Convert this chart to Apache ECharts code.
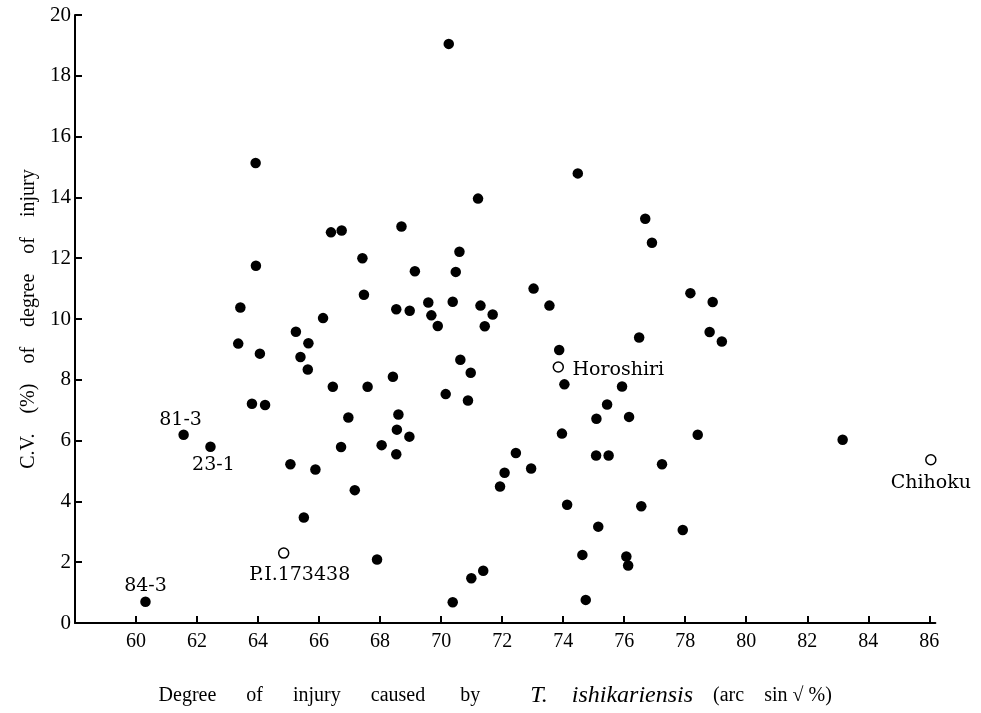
<!DOCTYPE html>
<html>
<head>
<meta charset="utf-8">
<script src="https://cdn.jsdelivr.net/npm/echarts@6/dist/echarts.min.js"></script>
<style>html,body{margin:0;padding:0;background:#fff}#c{width:981px;height:713px}</style>
</head>
<body>
<div id="c"></div>
<script>
// Unlabelled lines (filled dots)
var injury = [63.92,63.93,63.42,66.39,66.74,67.42,67.47,68.70,68.53,66.13,70.25,74.48,71.21,76.69,76.91,70.60,69.14,70.48,73.03,73.55,78.17,78.90,68.97,69.58,70.38,69.68,71.29,71.69,69.89,71.43,78.80,79.20,65.24,63.35,65.65,64.06,65.39,65.63,68.42,66.45,67.59,63.80,64.23,66.96,68.60,68.55,66.72,68.05,68.53,65.06,65.88,67.17,65.50,67.90,76.49,73.87,70.63,70.97,74.04,75.93,70.15,70.88,75.44,75.09,76.16,68.96,73.96,78.41,72.45,75.08,75.49,72.95,72.08,77.24,71.93,74.13,76.56,75.15,77.92,74.63,76.07,76.13,71.38,70.99,74.74,70.38,83.16];
var cv = [15.13,11.75,10.38,12.85,12.91,12.00,10.80,13.04,10.32,10.03,19.05,14.79,13.96,13.30,12.51,12.21,11.57,11.55,11.00,10.44,10.85,10.56,10.27,10.54,10.57,10.12,10.44,10.15,9.77,9.76,9.57,9.26,9.58,9.19,9.20,8.86,8.75,8.34,8.10,7.77,7.77,7.21,7.17,6.76,6.86,6.36,5.79,5.85,5.55,5.22,5.05,4.37,3.47,2.09,9.39,8.98,8.66,8.23,7.85,7.78,7.53,7.32,7.19,6.72,6.78,6.13,6.23,6.19,5.59,5.51,5.51,5.08,4.94,5.22,4.49,3.89,3.84,3.17,3.06,2.24,2.19,1.89,1.72,1.47,0.76,0.68,6.03];

// Labelled lines (filled dots)
var namedLines = ['81-3','23-1','84-3'];
var namedInjury = [61.56,62.44,60.31];
var namedCv = [6.19,5.80,0.70];

// Cultivars (open circles)
var cultivars = ['P.I.173438','Horoshiri','Chihoku'];
var cultivarInjury = [64.84,73.84,86.05];
var cultivarCv = [2.30,8.42,5.37];

var xTicks = [60,62,64,66,68,70,72,74,76,78,80,82,84,86];

var namedOffsets = [[-3,-15],[3,18],[0,-16]];
var cultivarOffsets = [[16,22],[60,3],[0,23]];

function lab(n, off){
  return {show:true, position:'inside', offset:off, formatter:n,
    fontFamily:'DejaVu Serif', fontSize:19, color:'#000',
    textBorderWidth:0, textBorderColor:'transparent', opacity:1};
}

var filled = injury.map(function(x,i){return [x, cv[i]];});
var named = namedLines.map(function(n,i){
  return {value:[namedInjury[i], namedCv[i]], name:n, label:lab(n, namedOffsets[i])};
});
var hollow = cultivars.map(function(n,i){
  return {value:[cultivarInjury[i], cultivarCv[i]], name:n, label:lab(n, cultivarOffsets[i])};
});

var chart = echarts.init(document.getElementById('c'));
chart.setOption({
  animation:false,
  backgroundColor:'#fff',
  grid:{left:75, right:45.6, top:15, bottom:90, containLabel:false},
  xAxis:{
    type:'value', min:58, max:86.2, interval:2,
    axisLine:{show:true, lineStyle:{color:'#000', width:2}},
    axisTick:{show:true, inside:true, length:7, lineStyle:{color:'#000', width:2}, customValues:xTicks},
    axisLabel:{customValues:xTicks, fontFamily:'Liberation Serif', fontSize:20, color:'#000', margin:9},
    splitLine:{show:false},
    name:'{r|Degree      of      injury      caused       by          }{i|T.    ishikariensis}{r|    (arc    sin √ %)}',
    nameLocation:'middle', nameGap:61,
    nameTextStyle:{padding:[0,20,0,0], rich:{
      r:{fontFamily:'Liberation Serif', fontSize:20, color:'#000'},
      i:{fontFamily:'Liberation Serif', fontStyle:'italic', fontSize:24, color:'#000'}
    }}
  },
  yAxis:{
    type:'value', min:0, max:20, interval:2,
    axisLine:{show:true, lineStyle:{color:'#000', width:2}},
    axisTick:{show:true, inside:true, length:7, lineStyle:{color:'#000', width:2}},
    axisLabel:{fontFamily:'Liberation Serif', fontSize:21, color:'#000', margin:4},
    splitLine:{show:false},
    name:'C.V.    (%)    of    degree    of    injury',
    nameLocation:'middle', nameGap:36,
    nameTextStyle:{fontFamily:'Liberation Serif', fontSize:20, color:'#000'}
  },
  series:[
    {type:'scatter', data:filled, symbol:'circle', symbolSize:10.5,
     itemStyle:{color:'#000', opacity:1}},
    {type:'scatter', data:named, symbol:'circle', symbolSize:10.5,
     itemStyle:{color:'#000', opacity:1}},
    {type:'scatter', data:hollow, symbol:'circle', symbolSize:10,
     itemStyle:{color:'#fff', borderColor:'#000', borderWidth:1.5, opacity:1}}
  ]
});
</script>
</body>
</html>
